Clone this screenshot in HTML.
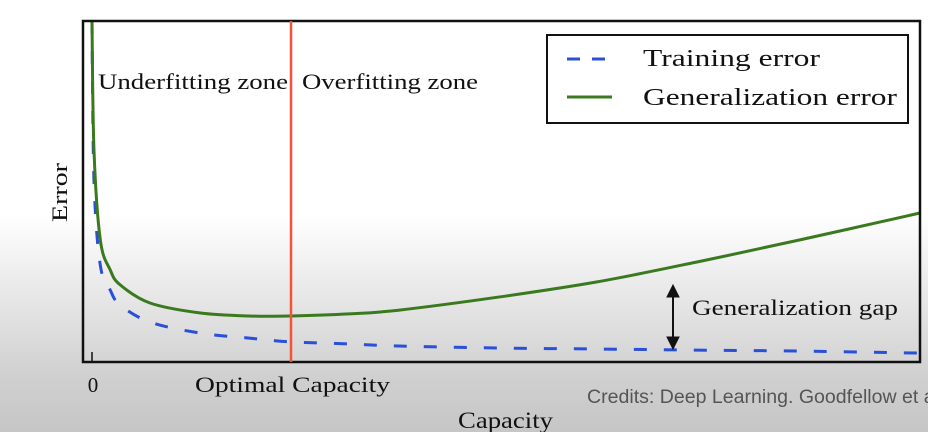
<!DOCTYPE html>
<html><head><meta charset="utf-8"><style>
html,body{margin:0;padding:0}
body{width:928px;height:432px;overflow:hidden;background:linear-gradient(to bottom,#fff 0px,#fff 215px,#e6e6e6 300px,#cfcfcf 380px,#c6c6c6 432px);font-family:"Liberation Serif",serif}
svg{position:absolute;left:0;top:0}
</style></head><body>
<svg width="928" height="432" id="chart">
<g id="marks"></g>
<rect x="83" y="21" width="837" height="341" fill="none" stroke="#111" stroke-width="2.5"/>
<line x1="291" y1="21" x2="291" y2="362" stroke="#f0553c" stroke-width="2.5"/>
<text x="98" y="89" font-size="22" textLength="190" lengthAdjust="spacingAndGlyphs" fill="#111">Underfitting zone</text>
<text x="302" y="89" font-size="22" textLength="176" lengthAdjust="spacingAndGlyphs" fill="#111">Overfitting zone</text>
<g>
<rect x="547" y="35" width="361" height="88" fill="#fff" stroke="#111" stroke-width="2"/>
<line x1="567" y1="59" x2="612" y2="59" stroke="#2a4fd8" stroke-width="3" stroke-dasharray="13,12"/>
<text x="643" y="66" font-size="24" textLength="177" lengthAdjust="spacingAndGlyphs" fill="#111">Training error</text>
<line x1="567" y1="97" x2="612" y2="97" stroke="#3c7a22" stroke-width="3"/>
<text x="643" y="105" font-size="24" textLength="254" lengthAdjust="spacingAndGlyphs" fill="#111">Generalization error</text>
</g>
<line x1="673" y1="292" x2="673" y2="342" stroke="#111" stroke-width="2"/>
<path d="M667 297 L673 285 L679 297 Z M667 337 L673 349 L679 337 Z" fill="#111" stroke="#111" stroke-width="1"/>
<text x="692" y="315" font-size="22" textLength="206" lengthAdjust="spacingAndGlyphs" fill="#111">Generalization gap</text>
<line x1="92" y1="352" x2="92" y2="362" stroke="#111" stroke-width="1.5"/>
<text x="93" y="392" font-size="21" text-anchor="middle" fill="#111">0</text>
<text x="195" y="392" font-size="22" textLength="195" lengthAdjust="spacingAndGlyphs" fill="#111">Optimal Capacity</text>
<text x="458" y="428" font-size="23" textLength="95" lengthAdjust="spacingAndGlyphs" fill="#111">Capacity</text>
<text transform="translate(67,222) rotate(-90)" font-size="22" textLength="59" lengthAdjust="spacingAndGlyphs" fill="#111">Error</text>
<text x="587" y="403" font-size="19" textLength="352" lengthAdjust="spacingAndGlyphs" fill="#555" font-family="Liberation Sans, sans-serif">Credits: Deep Learning. Goodfellow et al</text>
</svg>
<script>
const capacity=[0,0.24,1,2.2,3.4,7,13,19,24,31,37,49,61,73,85.5,100];
const generalizationError=[1.0,0.62,0.358,0.27,0.226,0.173,0.144,0.135,0.135,0.141,0.152,0.19,0.235,0.293,0.358,0.437];
const trainingError=[1.0,0.53,0.284,0.211,0.167,0.117,0.085,0.07,0.059,0.053,0.047,0.041,0.038,0.035,0.032,0.026];
function sx(c){return 92+c*(920-92)/100;}
function sy(e){return 362-e*341;}
const g=document.getElementById('marks');
function path(vals,color,dash,name){
  const pts=capacity.map((c,i)=>[sx(c),sy(vals[i])]);
  let d='M'+pts[0][0].toFixed(1)+' '+pts[0][1].toFixed(1);
  for(let i=0;i<pts.length-1;i++){
    const p0=pts[Math.max(i-1,0)],p1=pts[i],p2=pts[i+1],p3=pts[Math.min(i+2,pts.length-1)];
    const c1=[p1[0]+(p2[0]-p0[0])/6,p1[1]+(p2[1]-p0[1])/6];
    const c2=[p2[0]-(p3[0]-p1[0])/6,p2[1]-(p3[1]-p1[1])/6];
    d+='C'+c1[0].toFixed(1)+' '+c1[1].toFixed(1)+' '+c2[0].toFixed(1)+' '+c2[1].toFixed(1)+' '+p2[0].toFixed(1)+' '+p2[1].toFixed(1);
  }
  const p=document.createElementNS('http://www.w3.org/2000/svg','path');
  p.setAttribute('d',d);p.setAttribute('fill','none');p.setAttribute('stroke',color);
  p.setAttribute('stroke-width','3');p.setAttribute('stroke-linejoin','round');
  if(dash)p.setAttribute('stroke-dasharray',dash);
  
  
  g.appendChild(p);
}
path(trainingError,'#2a4fd8','13,17','training-error-line');
path(generalizationError,'#3a7a1e',null,'generalization-error-line');
</script>
</body></html>
